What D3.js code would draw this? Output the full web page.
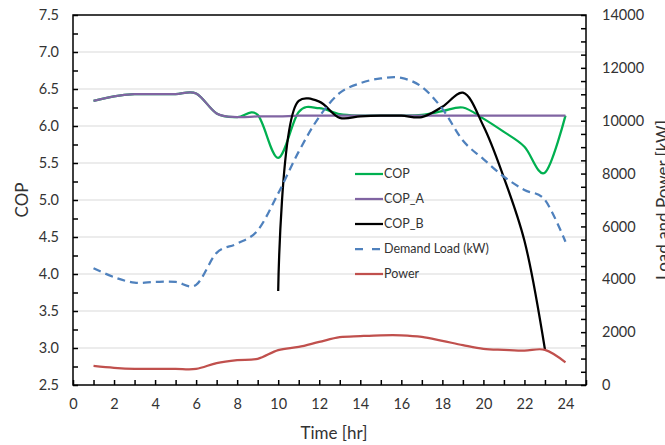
<!DOCTYPE html>
<html>
<head>
<meta charset="utf-8">
<script src="https://cdn.jsdelivr.net/npm/d3@7"></script>
<style>
  body { margin: 0; background: #fff; }
  text { font-family: Lato, "Open Sans", sans-serif; fill: #333; }
</style>
</head>
<body>
<div id="chart"></div>
<script>
// hourly values
var hours = d3.range(1, 25);
var cop   = [6.34, 6.40, 6.43, 6.43, 6.43, 6.44, 6.17, 6.12, 6.15, 5.57, 6.19, 6.24,
             6.16, 6.14, 6.14, 6.14, 6.15, 6.20, 6.25, 6.10, 5.92, 5.72, 5.37, 6.14];
var copA  = [6.34, 6.40, 6.43, 6.43, 6.43, 6.44, 6.17, 6.12, 6.13, 6.13, 6.14, 6.14,
             6.14, 6.14, 6.14, 6.14, 6.14, 6.14, 6.14, 6.14, 6.14, 6.14, 6.14, 6.14];
var copBHours = d3.range(10, 24);
var copB  = [3.77, 6.34, 6.33, 6.11, 6.13, 6.14, 6.14, 6.12, 6.26, 6.45, 6.0, 5.3, 4.45, 2.98];
var demand = [4420, 4080, 3870, 3900, 3900, 3790, 5000, 5350, 5850, 7250, 8830, 10150,
              11050, 11420, 11600, 11620, 11280, 10450, 9250, 8550, 7880, 7380, 7000, 5420];
var power = [720, 650, 610, 610, 610, 610, 830, 940, 990, 1320, 1440, 1630,
             1810, 1850, 1880, 1880, 1820, 1670, 1510, 1370, 1330, 1300, 1330, 860];

var legendItems = ["COP", "COP_A", "COP_B", "Demand Load (kW)", "Power"];
var colors = ["#00B050", "#8064A2", "#000000", "#4F81BD", "#C0504D"];

var W = 665, H = 445;
var margin = { top: 15, right: 79, bottom: 60, left: 73 },
    width = W - margin.left - margin.right,
    height = H - margin.top - margin.bottom;

var svg = d3.select("#chart").append("svg")
    .attr("width", W).attr("height", H);
var g = svg.append("g").attr("transform", "translate(" + margin.left + "," + margin.top + ")");

var x = d3.scaleLinear().domain([0, 25]).range([0, width]);
var y = d3.scaleLinear().domain([2.5, 7.5]).range([height, 0]);
var y2 = d3.scaleLinear().domain([0, 14000]).range([height, 0]);

// gridlines
g.append("g").selectAll("line")
  .data(d3.range(3, 7.01, 0.5))
  .enter().append("line")
    .attr("x1", 0).attr("x2", width)
    .attr("y1", d => y(d)).attr("y2", d => y(d))
    .attr("stroke", "#d9d9d9").attr("stroke-width", 1);

// axes
var leftAxis = d3.axisLeft(y)
    .tickValues(d3.range(2.5, 7.51, 0.25))
    .tickSize(-5).tickPadding(14)
    .tickFormat(d => Math.abs(d * 2 - Math.round(d * 2)) < 1e-6 ? d.toFixed(1) : "");
var bottomAxis = d3.axisBottom(x)
    .tickValues(d3.range(0, 26))
    .tickSize(-5).tickPadding(14)
    .tickFormat(d => (d % 2 === 0 && d <= 24) ? d : "");
var rightAxis = d3.axisRight(y2)
    .tickValues(d3.range(0, 14001, 500))
    .tickSize(-5).tickPadding(16)
    .tickFormat(d => d % 2000 === 0 ? d : "");

function styleAxis(sel) {
  sel.select(".domain").remove();
  sel.selectAll("line").attr("stroke", "#000").attr("stroke-width", 1.5);
  sel.selectAll("text").style("font-size", "14.5px").attr("fill", "#333");
}
g.append("g").call(leftAxis).call(styleAxis);
g.append("g").attr("transform", "translate(0," + height + ")").call(bottomAxis).call(styleAxis);
g.append("g").attr("transform", "translate(" + width + ",0)").call(rightAxis).call(styleAxis);

// frame
g.append("rect")
  .attr("width", width).attr("height", height)
  .attr("fill", "none").attr("stroke", "#000").attr("stroke-width", 1.5);

// series
var curve = d3.curveCardinal.tension(0);
var line1 = d3.line().curve(curve).x((d, i) => x(hours[i])).y(d => y(d));
var lineB = d3.line().curve(d3.curveCatmullRom.alpha(0.5)).x((d, i) => x(copBHours[i])).y(d => y(d));
var line2 = d3.line().curve(curve).x((d, i) => x(hours[i])).y(d => y2(d));

g.append("path").datum(cop).attr("d", line1)
  .attr("fill", "none").attr("stroke", colors[0]).attr("stroke-width", 2.25);
g.append("path").datum(copA).attr("d", line1)
  .attr("fill", "none").attr("stroke", colors[1]).attr("stroke-width", 2.25);
g.append("path").datum(copB).attr("d", lineB)
  .attr("fill", "none").attr("stroke", colors[2]).attr("stroke-width", 2.25);
g.append("path").datum(demand).attr("d", line2)
  .attr("fill", "none").attr("stroke", colors[3]).attr("stroke-width", 2.25)
  .attr("stroke-dasharray", "8,5");
g.append("path").datum(power).attr("d", line2)
  .attr("fill", "none").attr("stroke", colors[4]).attr("stroke-width", 2.25);

// legend
var legend = svg.append("g").attr("transform", "translate(355,174)");
var li = legend.selectAll("g").data(legendItems).enter().append("g")
    .attr("transform", (d, i) => "translate(0," + (i * 25) + ")");
li.append("line")
    .attr("x1", 0).attr("x2", 28)
    .attr("stroke", (d, i) => colors[i]).attr("stroke-width", 2.25)
    .attr("stroke-dasharray", (d, i) => i === 3 ? "8,9" : null);
li.append("text")
    .attr("x", 29).attr("dy", "0.35em")
    .style("font-size", "12.5px").attr("fill", "#222")
    .text(d => d);

// axis titles
svg.append("text")
  .attr("transform", "translate(28,200) rotate(-90)")
  .attr("text-anchor", "middle")
  .style("font-size", "17px")
  .text("COP");
svg.append("text")
  .attr("x", 334).attr("y", 439)
  .attr("text-anchor", "middle")
  .style("font-size", "17px")
  .text("Time [hr]");
// the reference shows this title clipped by the right edge
svg.append("text")
  .attr("transform", "translate(669,200) rotate(-90)")
  .attr("text-anchor", "middle")
  .style("font-size", "17px")
  .text("Load and Power [kW]");
</script>
</body>
</html>
